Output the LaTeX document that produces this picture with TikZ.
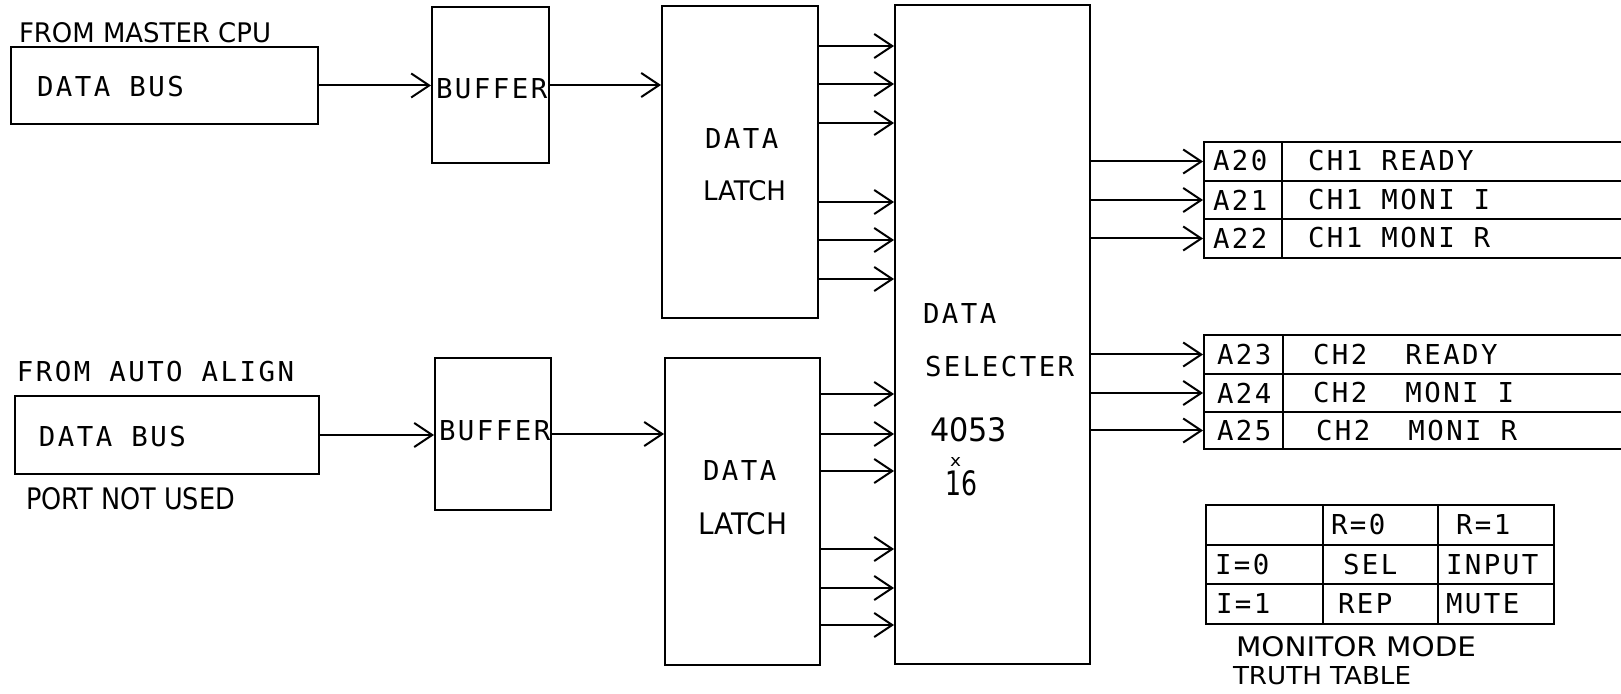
\documentclass[tikz,border=0pt]{standalone}
\usepackage{fontspec}
\setmainfont{DejaVu Sans}
\newfontfamily\plotfont[LetterSpace=9]{DejaVu Sans Mono}
\newfontfamily\handfont{DejaVu Sans}
\usetikzlibrary{arrows.meta,fit}
\newcommand{\hw}[3]{\resizebox{#1}{#2}{\handfont #3}}
\begin{document}
\begin{tikzpicture}[x=0.5pt,y=-0.5pt,line width=1pt,
  box/.style={draw,inner sep=0pt,line width=1pt},
  arr/.style={-{Straight Barb[length=9pt,width=12pt]}},
  ptxt/.style={inner sep=0pt,anchor=west,font=\plotfont\fontsize{13.7pt}{16pt}\selectfont},
  htxt/.style={inner sep=0pt,anchor=west}]
\useasboundingbox (0,0) rectangle (1621,694);
\fill[white] (0,0) rectangle (1621,694);

% boxes
\node[box,fit={(11,47)(318,124)}] (bus1) {};
\node[box,fit={(432,7)(549,163)}] (buf1) {};
\node[box,fit={(662,6)(818,318)}] (lat1) {};
\node[box,fit={(895,5)(1090,664)}] (sel) {};
\node[box,fit={(15,396)(319,474)}] (bus2) {};
\node[box,fit={(435,358)(551,510)}] (buf2) {};
\node[box,fit={(665,358)(820,665)}] (lat2) {};

% output table CH1
\node[box,fit={(1204,142)(1282,181)}] (a20) {};
\node[box,fit={(1204,181)(1282,219)}] (a21) {};
\node[box,fit={(1204,219)(1282,258)}] (a22) {};
\node[box,fit={(1282,142)(1640,181)}] (d20) {};
\node[box,fit={(1282,181)(1640,219)}] (d21) {};
\node[box,fit={(1282,219)(1640,258)}] (d22) {};
% output table CH2
\node[box,fit={(1204,335)(1283,374)}] (a23) {};
\node[box,fit={(1204,374)(1283,412)}] (a24) {};
\node[box,fit={(1204,412)(1283,449)}] (a25) {};
\node[box,fit={(1283,335)(1640,374)}] (d23) {};
\node[box,fit={(1283,374)(1640,412)}] (d24) {};
\node[box,fit={(1283,412)(1640,449)}] (d25) {};

% truth table
\node[box,fit={(1206,505)(1554,624)}] (tt) {};
\draw (1206,545) -- (1554,545) (1206,584) -- (1554,584)
      (1323,505) -- (1323,624) (1438,505) -- (1438,624);

% connectors
\draw[arr] (bus1.east) -- (bus1.east -| buf1.west);
\draw[arr] (buf1.east) -- (buf1.east -| lat1.west);
\draw[arr] (bus2.east) -- (bus2.east -| buf2.west);
\draw[arr] (buf2.east) -- (buf2.east -| lat2.west);
\foreach \yy in {46,84,123,202,240,279}
  \draw[arr] (lat1.east |- 0,\yy) -- (sel.west |- 0,\yy);
\foreach \yy in {394,434,471,549,588,625}
  \draw[arr] (lat2.east |- 0,\yy) -- (sel.west |- 0,\yy);
\foreach \n in {a20,a21,a22,a23,a24,a25}
  \draw[arr] (sel.east |- \n.west) -- (\n.west);

% typed texts
\node[ptxt] (t1) at (36,87) {DATA BUS};
\node[ptxt] (t2) at (38,437) {DATA BUS};
\node[ptxt] (t3) at (16,372) {FROM AUTO ALIGN};
\node[ptxt] (t4) at (435,89) {BUFFER};
\node[ptxt] (t5) at (438,431) {BUFFER};
\node[ptxt] (t6) at (704,139) {DATA};
\node[ptxt] (t7) at (702,471) {DATA};
\node[ptxt] (t8) at (922,314) {DATA};
\node[ptxt] (t9) at (924,367) {SELECTER};
\node[ptxt] at (1212,161) {A20};
\node[ptxt] at (1212,200) {A21};
\node[ptxt] at (1212,238) {A22};
\node[ptxt] at (1216,355) {A23};
\node[ptxt] at (1216,393) {A24};
\node[ptxt] at (1216,431) {A25};
\node[ptxt] at (1307,161) {CH1 READY};
\node[ptxt] at (1307,200) {CH1 MONI I};
\node[ptxt] at (1307,238) {CH1 MONI R};
\node[ptxt] at (1312,355) {CH2~~READY};
\node[ptxt] at (1312,393) {CH2~~MONI I};
\node[ptxt] at (1315,431) {CH2~~MONI R};
\node[ptxt] at (1330,525) {R=0};
\node[ptxt] at (1455,525) {R=1};
\node[ptxt] at (1214,565) {I=0};
\node[ptxt] at (1342,565) {SEL};
\node[ptxt] at (1445,565) {INPUT};
\node[ptxt] at (1215,604) {I=1};
\node[ptxt] at (1337,604) {REP};
\node[ptxt] at (1445,604) {MUTE};

% handwritten texts
\node[htxt] at (18,33) {\hw{126pt}{10pt}{FROM MASTER CPU}};
\node[htxt] at (25,499) {\hw{104.5pt}{11pt}{PORT NOT USED}};
\node[htxt] at (702,191) {\hw{41.5pt}{10pt}{LATCH}};
\node[htxt] at (697,524) {\hw{44.5pt}{11pt}{LATCH}};
\node[htxt] at (929,430) {\hw{38.5pt}{12pt}{4053}};
\node[htxt] at (949,462) {\hw{5.5pt}{4.5pt}{x}};
\node[htxt] at (944,483) {\hw{16pt}{12.5pt}{16}};
\node[htxt] at (1235,647) {\hw{120pt}{10pt}{MONITOR MODE}};
\node[htxt] at (1232,676) {\hw{89pt}{9pt}{TRUTH TABLE}};
\end{tikzpicture}
\end{document}
